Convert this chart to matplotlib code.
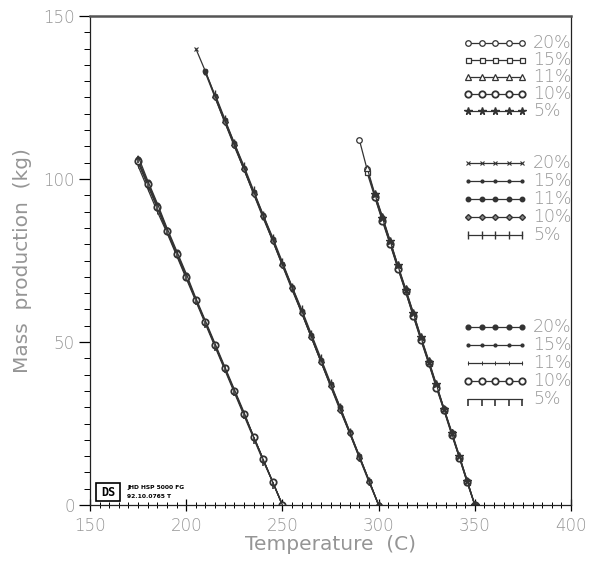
import matplotlib

matplotlib.use("Agg")
import matplotlib.pyplot as plt
import numpy as np
from matplotlib.patches import Rectangle
from matplotlib.ticker import MultipleLocator

NAN = np.nan

# left group (175 -> 250 C)
temps_a = [175, 180, 185, 190, 195, 200, 205, 210, 215, 220, 225, 230, 235, 240, 245, 250]
mass_a = {
    "20%": [106, 99, 92, 84.5, 77.5, 70.5, 63, 56, 49, 42, 35, 28, 21, 14, 7, 0],
    "15%": [105, 98, 91, 84, 77, 70, 63, 56, 49, 42, 35, 28, 21, 14, 7, 0],
    "11%": [104, 97, 90, 83.5, 76.5, 69.5, 62.5, 55.5, 48.5, 41.5, 34.5, 27.5, 20.5, 13.5, 7, 0],
    "10%": [105.5, 98.5, 91.5, 84, 77, 70, 63, 56, 49, 42, 35, 28, 21, 14, 7, 0],
    "5%": [107, 99.5, 92.5, 85, 78, 71, 63.5, 56.5, 49.5, 42.5, 35.5, 28.5, 21, 14, 7, 0],
}

# middle group (205 -> 300 C)
temps_b = [205, 210, 215, 220, 225, 230, 235, 240, 245, 250,
           255, 260, 265, 270, 275, 280, 285, 290, 295, 300]
mass_b = {
    "20%": [140, 133, 125.5, 118, 110.5, 103, 96, 88.5, 81, 74, 66.5, 59, 51.5, 44, 37, 29.5, 22, 15, 7.5, 0],
    "15%": [NAN, 132.5, 125, 117.5, 110, 103, 95.5, 88, 81, 73.5, 66, 59, 51.5, 44, 36.5, 29.5, 22, 14.5, 7.5, 0],
    "11%": [NAN, 133, 125.5, 118, 111, 103.5, 96, 89, 81.5, 74, 67, 59.5, 52, 44.5, 37, 30, 22.5, 15, 7.5, 0],
    "10%": [NAN, NAN, 125, 117.5, 110.5, 103, 95.5, 88.5, 81, 73.5, 66.5, 59, 51.5, 44, 36.5, 29, 22, 14.5, 7, 0],
    "5%": [NAN, NAN, 126, 118.5, 111, 104, 96.5, 89, 82, 74.5, 67, 60, 52.5, 45, 37.5, 30, 22.5, 15, 7.5, 0],
}

# right group (290 -> 350 C)
temps_c = [290, 294, 298, 302, 306, 310, 314, 318, 322, 326, 330, 334, 338, 342, 346, 350]
mass_c = {
    "20%": [112, 103, 95, 88, 80.5, 73, 66, 58.5, 51, 44, 36.5, 29.5, 22, 14.5, 7.5, 0],
    "15%": [NAN, 102, 94.5, 87.5, 80, 73, 65.5, 58, 51, 43.5, 36.5, 29, 22, 14.5, 7, 0],
    "11%": [NAN, 103.5, 95.5, 88.5, 81, 73.5, 66.5, 59, 51.5, 44.5, 37, 29.5, 22.5, 15, 7.5, 0],
    "10%": [NAN, NAN, 94.5, 87, 80, 72.5, 65.5, 58, 50.5, 43.5, 36, 29, 21.5, 14.5, 7, 0],
    "5%": [NAN, NAN, 95.5, 88, 81, 73.5, 66, 59, 51.5, 44, 37, 29.5, 22, 15, 7.5, 0],
}

labels = ["20%", "15%", "11%", "10%", "5%"]

# marker styles per group (legend blocks top -> bottom: right, middle, left group)
style_c = {
    "20%": dict(marker="o", ms=4, mfc="white", mew=0.9),
    "15%": dict(marker="s", ms=3.6, mfc="white", mew=0.9),
    "11%": dict(marker="^", ms=4, mfc="white", mew=0.9),
    "10%": dict(marker="o", ms=4.6, mfc="white", mew=1.3),
    "5%": dict(marker="*", ms=5.5),
}
style_b = {
    "20%": dict(marker="x", ms=3, mew=0.8),
    "15%": dict(marker=".", ms=4),
    "11%": dict(marker="o", ms=3.2),
    "10%": dict(marker="D", ms=3, mfc="#888888"),
    "5%": dict(marker="|", ms=6, mew=1),
}
style_a = {
    "20%": dict(marker="o", ms=3.4),
    "15%": dict(marker=".", ms=4),
    "11%": dict(marker="|", ms=2.5, mew=0.7),
    "10%": dict(marker="o", ms=4.6, mfc="white", mew=1.3),
    "5%": dict(marker=3, ms=5, mew=1.2),
}

GRAY = "#959595"
LINE = "#333333"
plt.rcParams["font.weight"] = "light"

fig = plt.figure(figsize=(5.95, 5.62), dpi=100)
ax = fig.add_axes([90 / 595, 57 / 562, 481 / 595, 489 / 562])

for temps, masses, styles in [(temps_a, mass_a, style_a), (temps_b, mass_b, style_b),
                              (temps_c, mass_c, style_c)]:
    for lab in labels:
        ax.plot(temps, masses[lab], color=LINE, lw=0.9, mec=LINE, **styles[lab])


# legend blocks drawn by hand in axes fraction
def legend_block(rows_px, styles):
    x0, x1, xt = 378 / 481, 432 / 481, 443 / 481
    for lab, ypx in zip(labels, rows_px):
        y = (505 - ypx) / 489
        ax.plot(np.linspace(x0, x1, 5), [y] * 5, transform=ax.transAxes, color=LINE, lw=0.9,
                mec=LINE, clip_on=False, **styles[lab])
        ax.text(xt, y, lab, transform=ax.transAxes, ha="left", va="center", fontsize=12.5,
                color=GRAY)


legend_block([43, 60, 77, 94, 111], style_c)
legend_block([163, 181, 199, 217, 235], style_b)
legend_block([327, 345, 363, 381, 399], style_a)

ax.set_xlim(150, 400)
ax.set_ylim(0, 150)
ax.xaxis.set_major_locator(MultipleLocator(50))
ax.xaxis.set_minor_locator(MultipleLocator(5))
ax.yaxis.set_major_locator(MultipleLocator(50))
ax.yaxis.set_minor_locator(MultipleLocator(5))
ax.tick_params(axis="x", which="major", direction="inout", length=9, width=0.9, pad=4,
               labelsize=12, labelcolor=GRAY)
ax.tick_params(axis="x", which="minor", direction="inout", length=5, width=0.7)
ax.tick_params(axis="y", which="major", direction="out", length=8, width=0.9, pad=3,
               labelsize=12, labelcolor=GRAY)
ax.tick_params(axis="y", which="minor", direction="out", length=4, width=0.7)
ax.spines["top"].set_color("#555555")
ax.spines["top"].set_linewidth(1.8)
for s in ["left", "bottom", "right"]:
    ax.spines[s].set_linewidth(0.9)
    ax.spines[s].set_color("#222222")

ax.set_xlabel("Temperature  (C)", fontsize=14.5, color=GRAY, labelpad=0)
ax.set_ylabel("Mass  production  (kg)", fontsize=14.5, color=GRAY, labelpad=8)

# instrument stamp, bottom-left corner
ax.add_patch(Rectangle((6 / 481, 4 / 489), 24 / 481, 18 / 489, transform=ax.transAxes,
                       fill=False, ec="black", lw=1.2))
ax.text(18 / 481, 13 / 489, "DS", transform=ax.transAxes, ha="center", va="center",
        fontsize=8.5, fontweight="bold", family="DejaVu Sans Mono")
ax.text(37 / 481, 17 / 489, "JHD HSP 5000 FG", transform=ax.transAxes, ha="left",
        va="center", fontsize=4.3, fontweight="bold")
ax.text(37 / 481, 8 / 489, "92.10.0765 T", transform=ax.transAxes, ha="left",
        va="center", fontsize=4.3, fontweight="bold")

fig.savefig("out.png", dpi=100)
